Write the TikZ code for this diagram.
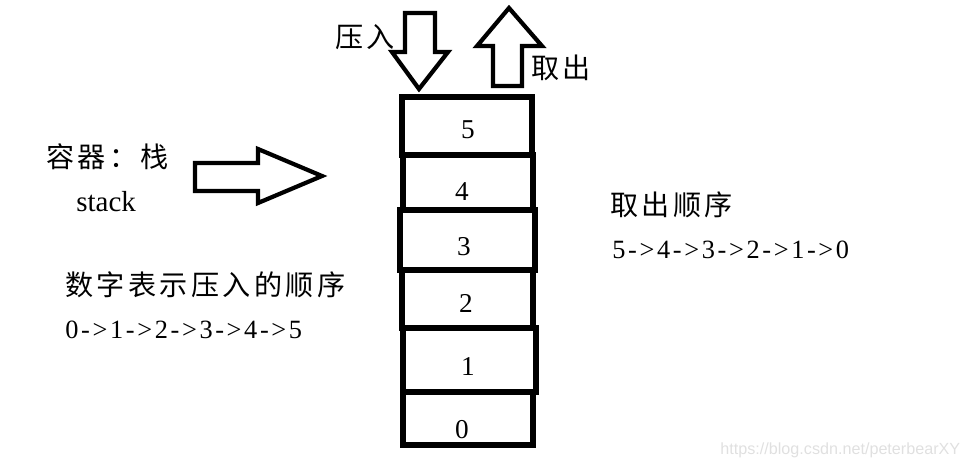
\documentclass[tikz,border=0pt]{standalone}
\usepackage{fontspec}
\setmainfont{Liberation Serif}
\newfontfamily\seqfont[LetterSpace=10]{Liberation Serif}
\newfontfamily\cjk[LetterSpace=12]{Noto Sans CJK SC}
\newfontfamily\markfont{Liberation Sans}
\usetikzlibrary{positioning}

\begin{document}
\begin{tikzpicture}[
  x=0.02cm, y=-0.02cm,
  cellline/.style={line width=3pt},
  blockarrow/.style={line width=2.4pt, line join=miter},
  txt/.style={anchor=west, inner sep=0pt, font=\fontsize{15}{18}\selectfont\seqfont},
  zh/.style={txt, font=\fontsize{16}{19}\selectfont\cjk},
  digit/.style={inner sep=0pt, font=\fontsize{15.5}{18}\selectfont}
]
  \useasboundingbox (0,0) rectangle (963,470);

  % stack cells, bottom to top
  \foreach \n/\l/\t/\r/\b/\cx/\cy in {
      0/403/392/533/445/462/430,
      1/403/328/536/392/468/367,
      2/402/270/533/328/466/303,
      3/400/210/535/270/464/247,
      4/403/155/533/210/462/192,
      5/402/97/532/155/468/130} {
    \draw[cellline] (\l,\t) rectangle (\r,\b);
    \node[digit] (c\n) at (\cx,\cy) {\n};
  }

  % push / pop arrows
  \draw[blockarrow] (405,13) -- (435,13) -- (435,52) -- (448,52) -- (419,89)
    -- (392,52) -- (405,52) -- cycle;
  \draw[blockarrow] (493,86) -- (522,86) -- (522,46) -- (542,46) -- (509,8)
    -- (477,46) -- (493,46) -- cycle;
  \draw[blockarrow] (195,163) -- (258,163) -- (258,149) -- (322,176)
    -- (258,203) -- (258,191) -- (195,191) -- cycle;

  \node[zh] (push) at (335,37) {压入};
  \node[zh] (pop) at (531,68) {取出};
  \node[zh] (container) at (46,157) {容器：栈};
  \node[txt, font=\fontsize{16.5}{19}\selectfont] (stack) at (76,202) {stack};
  \node[zh] (pushlbl) at (65,285) {数字表示压入的顺序};
  \node[txt] (pushseq) at (65,330) {0->1->2->3->4->5};
  \node[zh] (poplbl) at (610,205) {取出顺序};
  \node[txt] (popseq) at (612,250) {5->4->3->2->1->0};

  \node[anchor=west, inner sep=0pt, text=black!12, font=\fontsize{9.2}{11}\selectfont\markfont]
    (mark) at (720,450) {https://blog.csdn.net/peterbearXY};
\end{tikzpicture}
\end{document}
